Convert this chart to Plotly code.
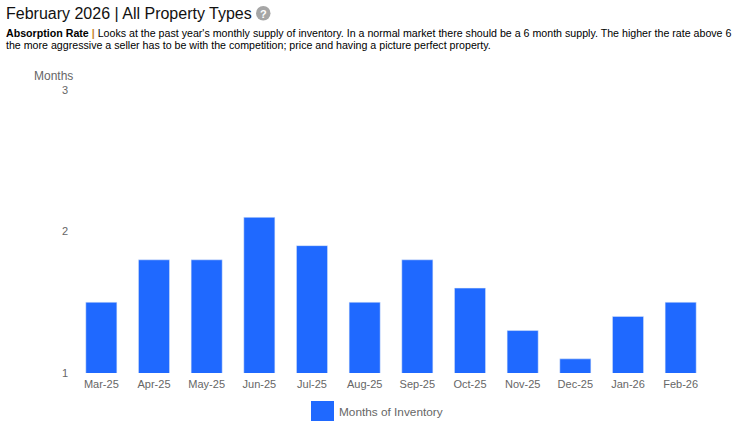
import plotly.graph_objects as go

categories = ["Mar-25", "Apr-25", "May-25", "Jun-25", "Jul-25", "Aug-25", "Sep-25", "Oct-25", "Nov-25", "Dec-25", "Jan-26", "Feb-26"]
months_of_inventory = [1.5, 1.8, 1.8, 2.1, 1.9, 1.5, 1.8, 1.6, 1.3, 1.1, 1.4, 1.5]
y_ticks = [1, 2, 3]
series_name = "Months of Inventory"
title_text = "February 2026 | All Property Types"
line1 = "<b>Absorption Rate</b> <span style='color:#c87f2a'><b>|</b></span> Looks at the past year's monthly supply of inventory. In a normal market there should be a 6 month supply. The higher the rate above 6"
line2 = "the more aggressive a seller has to be with the competition; price and having a picture perfect property."

W, H = 743, 430
L, R, T, B = 75, 707, 90, 373
FONT = "Liberation Sans, Arial, sans-serif"
BLUE = "#1f69ff"
GREY = "#666666"

def px(x): return (x - L) / (R - L)
def py(y): return (B - y) / (B - T)

fig = go.Figure(go.Bar(x=categories, y=months_of_inventory, name=series_name, marker_color=BLUE, width=0.59, showlegend=False))

def note(x, y, text, size, color="#000000", xanchor="left"):
    fig.add_annotation(xref="paper", yref="paper", x=px(x), y=py(y), text=text, showarrow=False,
                       xanchor=xanchor, yanchor="middle", font=dict(family=FONT, size=size, color=color),
                       align="left", borderpad=0, borderwidth=0)

note(6, 13, title_text, 16, "#111111")
note(6, 33, line1, 10.65)
note(6, 45, line2, 10.65)
note(34, 76, "Months", 12, GREY)
note(339, 412, series_name, 11.8, GREY)
note(263, 13.5, "<b>?</b>", 11, "#ffffff", xanchor="center")

fig.add_shape(type="circle", xref="paper", yref="paper", x0=px(256), x1=px(270.5), y0=py(20.5), y1=py(6), fillcolor="#a6a6a6", line_width=0, layer="below")
fig.add_shape(type="rect", xref="paper", yref="paper", x0=px(311), x1=px(334), y0=py(421), y1=py(401), fillcolor=BLUE, line_width=0)

fig.update_layout(
    width=W, height=H, autosize=False,
    margin=dict(l=L, r=W - R, t=T, b=H - B, pad=0),
    paper_bgcolor="#ffffff", plot_bgcolor="#ffffff",
    font=dict(family=FONT, size=12, color=GREY),
    bargap=0.41,
    xaxis=dict(type="category", showgrid=False, showline=False, ticks="", tickfont=dict(size=11, color=GREY), tickangle=0, ticklabelstandoff=3, fixedrange=True),
    yaxis=dict(range=[1, 3], tickvals=y_ticks, showgrid=False, zeroline=False, showline=False, ticks="", tickfont=dict(size=11, color=GREY), ticklabelstandoff=6, fixedrange=True),
)
fig.write_html("out.html", config={"displayModeBar": False},
               post_script="document.body.style.margin='0';document.documentElement.style.overflow='hidden';")
